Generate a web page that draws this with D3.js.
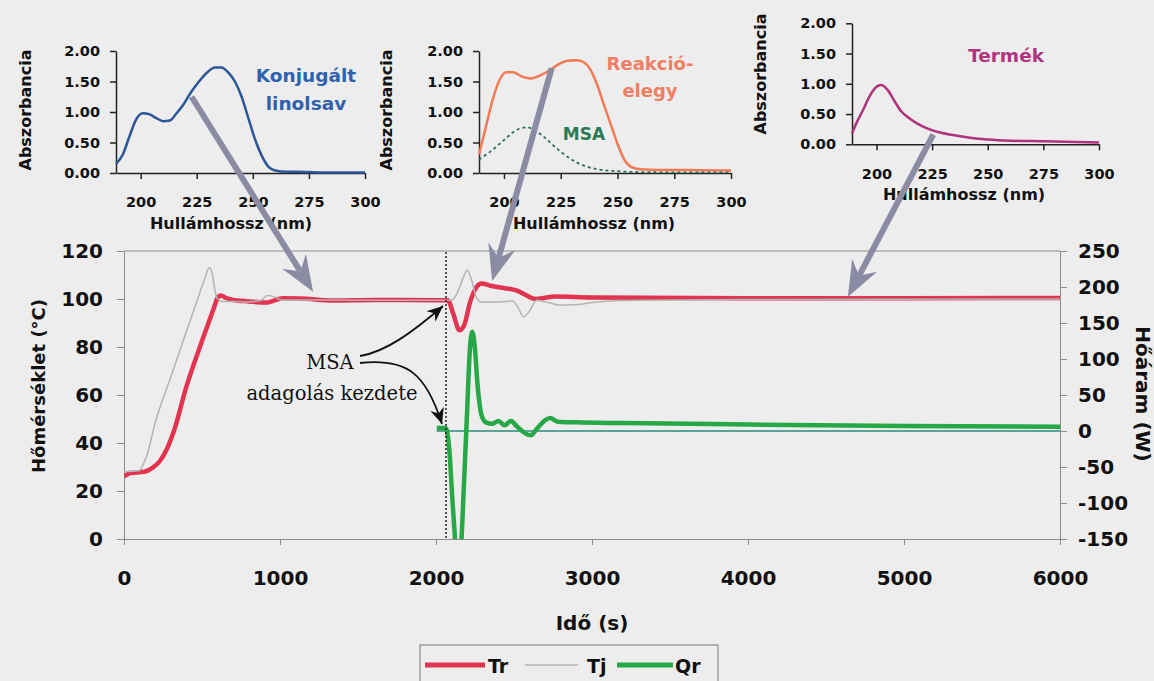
<!DOCTYPE html>
<html>
<head>
<meta charset="utf-8">
<script src="https://cdn.jsdelivr.net/npm/d3@7"></script>
<style>
  body { margin: 0; background: #ededed; }
  svg { display: block; }
  .sans { font-family: "DejaVu Sans", sans-serif; font-weight: bold; }
  .serif { font-family: "DejaVu Serif", serif; }
</style>
</head>
<body>
<svg width="1154" height="681"></svg>
<script>
// ---- main chart data (time in s) ----
var trPoints = [[0,26],[40,27.5],[130,28],[180,29.5],[230,32.5],[275,37.5],[320,45],[400,63.5],[500,82.5],[580,97],[600,100.5],[620,101.5],[650,100.5],[700,99.6],[800,99],[910,98.5],[1020,100.3],[1130,100.2],[1340,99.4],[1600,99.6],[2000,99.5],[2075,99.5],[2110,94],[2150,87],[2180,89],[2220,99],[2260,105],[2290,106.5],[2350,105.5],[2440,104.5],[2520,103.5],[2580,101.5],[2640,100],[2700,100.5],[2760,101],[3000,100.6],[4000,100.3],[5000,100.3],[6000,100.4]];
var tjPoints = [[0,28],[100,28.5],[122,31],[145,34.5],[200,48.5],[300,67.5],[400,86.5],[480,101.5],[520,109],[540,112.5],[552,113],[565,110.5],[585,103],[600,100],[630,99],[700,99],[800,98.8],[880,99.5],[920,101.5],[960,101],[1010,99.6],[1200,99.6],[1600,99.5],[2000,99.5],[2095,99.5],[2140,103],[2175,109],[2200,112],[2230,107.5],[2260,100.5],[2290,98.8],[2400,98.8],[2490,99.2],[2530,96],[2560,92.5],[2600,95],[2645,99.5],[2700,98.8],[2800,97.5],[2900,97.6],[3030,98.8],[3300,99.5],[4000,99.8],[6000,100]];
var qrPoints = [[2005,4],[2062,4],[2085,-25],[2105,-95],[2122,-150],[2140,-215],[2160,-165],[2180,-70],[2200,30],[2215,105],[2232,138],[2248,118],[2268,60],[2292,22],[2320,12],[2360,10],[2400,14],[2440,8],[2480,14],[2520,6],[2570,-3],[2605,-6],[2650,4],[2700,15],[2732,18],[2780,13],[2900,12],[3200,11],[4000,9],[5000,7],[6000,6]];
var qrBaseline = [[2005,0],[6000,0]];
var msaStart = 2064;

var xTicks = [0,1000,2000,3000,4000,5000,6000];
var tempTicks = [0,20,40,60,80,100,120];
var heatTicks = [-150,-100,-50,0,50,100,150,200,250];

// ---- inset spectra (wavelength nm, absorbance) ----
var konjWl = [189,192,195,198,201,204,207,210,213,216,219,222,226,230,233,236,239,242,245,248,251,254,257,260,265,270,280,290,300];
var konjAbs = [0.15,0.3,0.6,0.88,0.98,0.96,0.9,0.85,0.86,0.98,1.12,1.3,1.5,1.66,1.73,1.73,1.65,1.5,1.25,0.9,0.55,0.28,0.1,0.04,0.02,0.02,0.01,0.01,0.01];
var reakWl = [189,192,195,198,201,204,208,212,216,220,224,228,232,235,238,241,244,247,250,253,256,260,270,280,300];
var reakAbs = [0.3,0.75,1.2,1.52,1.65,1.65,1.58,1.55,1.6,1.68,1.78,1.84,1.85,1.82,1.7,1.45,1.12,0.8,0.48,0.22,0.1,0.06,0.05,0.05,0.04];
var msaWl = [189,194,200,204.5,210,214,218,221.5,225,229,234.6,240.6,250,260,280,300];
var msaAbs = [0.22,0.35,0.54,0.68,0.75,0.69,0.58,0.46,0.35,0.24,0.13,0.065,0.03,0.015,0.01,0.01];
var termWl = [189,191,194,197,200,202,205,208,211,214,218,223,229,235,242,250,260,275,300];
var termAbs = [0.18,0.35,0.57,0.8,0.95,0.98,0.9,0.72,0.55,0.45,0.35,0.26,0.19,0.15,0.11,0.08,0.06,0.05,0.03];
var wlTicks = [200,225,250,275,300];
var absTicks = [0,0.5,1,1.5,2];

var svg = d3.select("svg");
svg.append("rect").attr("width", 1154).attr("height", 681).attr("fill", "#ededed");

var defs = svg.append("defs");
defs.append("clipPath").attr("id", "plotclip")
  .append("rect").attr("x", 124).attr("y", 251).attr("width", 936).attr("height", 288);
defs.append("marker").attr("id", "blackhead")
    .attr("viewBox", "-16 -8 17 16").attr("markerUnits", "userSpaceOnUse")
    .attr("markerWidth", 17).attr("markerHeight", 16).attr("refX", 0).attr("refY", 0)
    .attr("orient", "auto")
  .append("path").attr("d", "M0,0 L-16,-7 L-11,0 L-16,7 Z").attr("fill", "#111");

// ---- main chart ----
var x = d3.scaleLinear().domain([0, 6000]).range([124, 1060]),
    yL = d3.scaleLinear().domain([0, 120]).range([539, 251]),
    yR = d3.scaleLinear().domain([-150, 250]).range([539, 251]);

var axisColor = "#8a8a8a";
var plain = function(d) { return String(d); };   // keep ascii hyphen for negatives

svg.append("line").attr("x1", 124).attr("x2", 1060).attr("y1", 251).attr("y2", 251)
  .attr("stroke", axisColor);

var gx = svg.append("g").attr("transform", "translate(0,539)")
  .call(d3.axisBottom(x).tickValues(xTicks).tickSize(6).tickSizeOuter(0).tickPadding(26).tickFormat(plain));
var gl = svg.append("g").attr("transform", "translate(124,0)")
  .call(d3.axisLeft(yL).tickValues(tempTicks).tickSize(7).tickSizeOuter(0).tickPadding(14).tickFormat(plain));
var gr = svg.append("g").attr("transform", "translate(1060,0)")
  .call(d3.axisRight(yR).tickValues(heatTicks).tickSize(7).tickSizeOuter(0).tickPadding(11).tickFormat(plain));

[gx, gl, gr].forEach(function(g) {
  g.select(".domain").attr("stroke", axisColor);
  g.selectAll(".tick line").attr("stroke", axisColor);
  g.selectAll("text").attr("class", "sans").attr("font-size", 20).attr("fill", "#111");
});

var plot = svg.append("g").attr("clip-path", "url(#plotclip)");

var lineT = d3.line().x(function(d) { return x(d[0]); }).y(function(d) { return yL(d[1]); }).curve(d3.curveMonotoneX);
var lineQ = d3.line().x(function(d) { return x(d[0]); }).y(function(d) { return yR(d[1]); }).curve(d3.curveMonotoneX);

plot.append("path").datum(qrBaseline).attr("d", lineQ)
  .attr("fill", "none").attr("stroke", "#2a8a78").attr("stroke-width", 1.5);
plot.append("path").datum(trPoints).attr("d", lineT)
  .attr("fill", "none").attr("stroke", "#e2334f").attr("stroke-width", 4.5);
plot.append("path").datum(tjPoints).attr("d", lineT)
  .attr("fill", "none").attr("stroke", "#b4b4b4").attr("stroke-width", 1.5);
plot.append("path").datum(qrPoints).attr("d", lineQ)
  .attr("fill", "none").attr("stroke", "#27a846").attr("stroke-width", 4.5);

// MSA dosing start marker
svg.append("line")
  .attr("x1", x(msaStart)).attr("x2", x(msaStart)).attr("y1", 252).attr("y2", 539)
  .attr("stroke", "#222").attr("stroke-width", 1.5).attr("stroke-dasharray", "2,2");

// axis titles
svg.append("text").attr("class", "sans").attr("font-size", 18)
  .attr("transform", "translate(45,386) rotate(-90)").attr("text-anchor", "middle")
  .attr("fill", "#111").text("Hőmérséklet (°C)");
svg.append("text").attr("class", "sans").attr("font-size", 20)
  .attr("transform", "translate(1136,394) rotate(90)").attr("text-anchor", "middle")
  .attr("fill", "#111").text("Hőáram (W)");
svg.append("text").attr("class", "sans").attr("font-size", 20)
  .attr("x", 592).attr("y", 630).attr("text-anchor", "middle")
  .attr("fill", "#111").text("Idő (s)");

// annotation
svg.append("text").attr("class", "serif").attr("font-size", 19.5)
  .attr("x", 330).attr("y", 369).attr("text-anchor", "middle").attr("fill", "#111").text("MSA");
svg.append("text").attr("class", "serif").attr("font-size", 19.5)
  .attr("x", 332).attr("y", 400).attr("text-anchor", "middle").attr("fill", "#111").text("adagolás kezdete");
svg.append("path").attr("d", "M360,356 C386,352 414,331 443,306")
  .attr("fill", "none").attr("stroke", "#111").attr("stroke-width", 1.8).attr("marker-end", "url(#blackhead)");
svg.append("path").attr("d", "M360,363 C408,358 426,374 442,424")
  .attr("fill", "none").attr("stroke", "#111").attr("stroke-width", 1.8).attr("marker-end", "url(#blackhead)");

// legend
var legend = svg.append("g");
legend.append("rect").attr("x", 420).attr("y", 645).attr("width", 298).attr("height", 50)
  .attr("fill", "none").attr("stroke", "#777");
var legendItems = [
  {name: "Tr", color: "#e2334f", width: 5, x1: 425, x2: 485, tx: 488},
  {name: "Tj", color: "#b4b4b4", width: 1.5, x1: 525, x2: 578, tx: 587},
  {name: "Qr", color: "#27a846", width: 5, x1: 617, x2: 673, tx: 675}
];
legendItems.forEach(function(d) {
  legend.append("line").attr("x1", d.x1).attr("x2", d.x2).attr("y1", 665).attr("y2", 665)
    .attr("stroke", d.color).attr("stroke-width", d.width);
  legend.append("text").attr("class", "sans").attr("font-size", 19)
    .attr("x", d.tx).attr("y", 673).attr("fill", "#111").text(d.name);
});

// ---- insets ----
function drawInset(opt) {
  var ix = d3.scaleLinear().domain([189, 300]).range([opt.left, opt.right]);
  var iy = d3.scaleLinear().domain([0, 2]).range([opt.bottom, opt.top]);
  var g = svg.append("g");
  var ax = g.append("g").attr("transform", "translate(0," + opt.bottom + ")")
    .call(d3.axisBottom(ix).tickValues(wlTicks).tickSize(6).tickSizeOuter(0).tickPadding(18));
  var ay = g.append("g").attr("transform", "translate(" + opt.left + ",0)")
    .call(d3.axisLeft(iy).tickValues(absTicks).tickSize(6).tickSizeOuter(0).tickPadding(10).tickFormat(d3.format(".2f")));
  [ax, ay].forEach(function(a) {
    a.select(".domain").attr("stroke", "#222").attr("stroke-width", 1.5);
    a.selectAll(".tick line").attr("stroke", "#222").attr("stroke-width", 1.5);
    a.selectAll("text").attr("class", "sans").attr("font-size", 14.5).attr("fill", "#111");
  });
  g.append("text").attr("class", "sans").attr("font-size", 16)
    .attr("x", opt.xTitleX).attr("y", opt.bottom + 56).attr("text-anchor", "middle")
    .attr("fill", "#111").text("Hullámhossz (nm)");
  g.append("text").attr("class", "sans").attr("font-size", 16)
    .attr("transform", "translate(" + opt.yTitleX + "," + opt.yTitleY + ") rotate(-90)")
    .attr("text-anchor", "middle").attr("fill", "#111").text("Abszorbancia");
  var line = d3.line().x(function(d) { return ix(d[0]); }).y(function(d) { return iy(d[1]); }).curve(d3.curveMonotoneX);
  opt.series.forEach(function(s) {
    g.append("path").datum(d3.zip(s.wl, s.abs)).attr("d", line)
      .attr("fill", "none").attr("stroke", s.color).attr("stroke-width", s.width)
      .attr("stroke-dasharray", s.dash || null);
  });
  opt.labels.forEach(function(l) {
    g.append("text").attr("class", "sans").attr("font-size", l.size)
      .attr("x", l.x).attr("y", l.y).attr("text-anchor", "middle").attr("fill", l.color).text(l.text);
  });
  return {x: ix, y: iy};
}

var in1 = drawInset({left: 116, right: 365, top: 51, bottom: 173, xTitleX: 231, yTitleX: 31, yTitleY: 110,
  series: [{wl: konjWl, abs: konjAbs, color: "#2b5699", width: 2.5}],
  labels: [{text: "Konjugált", x: 306, y: 82, size: 18.5, color: "#2f62ad"},
           {text: "linolsav", x: 306, y: 110, size: 18.5, color: "#2f62ad"}]});
var in2 = drawInset({left: 479, right: 731, top: 51, bottom: 173, xTitleX: 594, yTitleX: 392, yTitleY: 110,
  series: [{wl: reakWl, abs: reakAbs, color: "#f27a55", width: 2.5},
           {wl: msaWl, abs: msaAbs, color: "#2b6e58", width: 1.8, dash: "3,3"}],
  labels: [{text: "Reakció-", x: 650, y: 70, size: 18, color: "#f07e62"},
           {text: "elegy", x: 650, y: 97, size: 18, color: "#f07e62"},
           {text: "MSA", x: 584, y: 140, size: 17, color: "#2a7a55"}]});
var in3 = drawInset({left: 852, right: 1099, top: 23.3, bottom: 144.3, xTitleX: 964, yTitleX: 766, yTitleY: 74,
  series: [{wl: termWl, abs: termAbs, color: "#ad337c", width: 2.5}],
  labels: [{text: "Termék", x: 1006, y: 62, size: 18.5, color: "#b03580"}]});

// gray pointer arrows from spectra to the process curve
function grayArrow(sx, sy, tx, ty) {
  var dx = tx - sx, dy = ty - sy, len = Math.sqrt(dx * dx + dy * dy);
  var ux = dx / len, uy = dy / len, px = -uy, py = ux;
  var L = 36, W = 14, N = 24;
  svg.append("line").attr("x1", sx).attr("y1", sy)
    .attr("x2", tx - ux * N).attr("y2", ty - uy * N)
    .attr("stroke", "#8b8ba4").attr("stroke-width", 6);
  var pts = [[tx, ty],
             [tx - ux * L + px * W, ty - uy * L + py * W],
             [tx - ux * N, ty - uy * N],
             [tx - ux * L - px * W, ty - uy * L - py * W]];
  svg.append("path").attr("d", "M" + pts.join("L") + "Z").attr("fill", "#8b8ba4");
}
grayArrow(in1.x(222.7), in1.y(1.25), x(1212), yL(103));
grayArrow(in2.x(221), in2.y(1.72), x(2360), yL(107.5));
grayArrow(in3.x(225.5), in3.y(0.16), x(4640), yL(100.8));
</script>
</body>
</html>
